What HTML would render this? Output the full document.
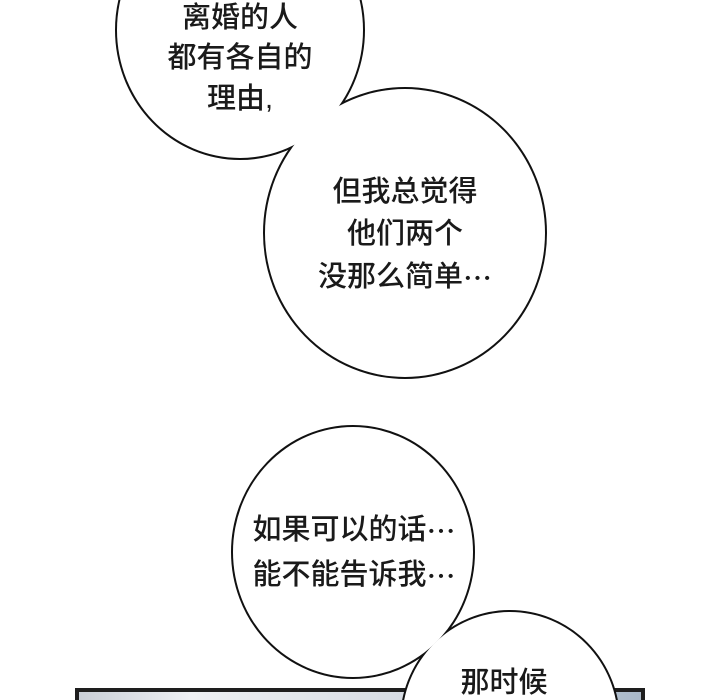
<!DOCTYPE html>
<html><head><meta charset="utf-8"><style>
html,body{margin:0;padding:0;background:#fff;width:720px;height:700px;overflow:hidden;}
svg{display:block}
text{font-family:"Liberation Sans","Noto Sans CJK SC",sans-serif;font-size:29px;fill:#1a1a1a;text-anchor:middle;dominant-baseline:central;font-weight:500}
.e{font-family:"Noto Sans CJK SC",sans-serif}
</style></head><body>
<svg width="720" height="700" viewBox="0 0 720 700">
<defs><linearGradient id="g" x1="0" x2="1"><stop offset="0" stop-color="#c9ced6"/><stop offset="0.2" stop-color="#eef0f3"/><stop offset="0.6" stop-color="#d5dbe2"/><stop offset="1" stop-color="#a9b8c8"/></linearGradient></defs>
<rect x="77" y="690" width="566" height="20" fill="url(#g)" stroke="#1e1e1e" stroke-width="4"/>
<g stroke="#111" stroke-width="4" fill="#111">
<ellipse cx="240" cy="30" rx="123" ry="128"/>
<ellipse cx="405" cy="233" rx="140" ry="144"/>
<ellipse cx="353" cy="552" rx="120" ry="125"/>
<ellipse cx="510" cy="722" rx="108" ry="110"/>
</g>
<g fill="#fff">
<ellipse cx="240" cy="30" rx="123" ry="128"/>
<ellipse cx="405" cy="233" rx="140" ry="144"/>
<ellipse cx="353" cy="552" rx="120" ry="125"/>
<ellipse cx="510" cy="722" rx="108" ry="110"/>
</g>
<text x="240" y="18">离婚的人</text>
<text x="240" y="58">都有各自的</text>
<text x="240" y="99">理由,</text>
<text x="405" y="192">但我总觉得</text>
<text x="405" y="234">他们两个</text>
<text x="405" y="277">没那么简单<tspan class="e">…</tspan></text>
<text x="354" y="530">如果可以的话<tspan class="e">…</tspan></text>
<text x="354" y="575">能不能告诉我<tspan class="e">…</tspan></text>
<text x="504" y="683">那时候</text>
</svg>
</body></html>
